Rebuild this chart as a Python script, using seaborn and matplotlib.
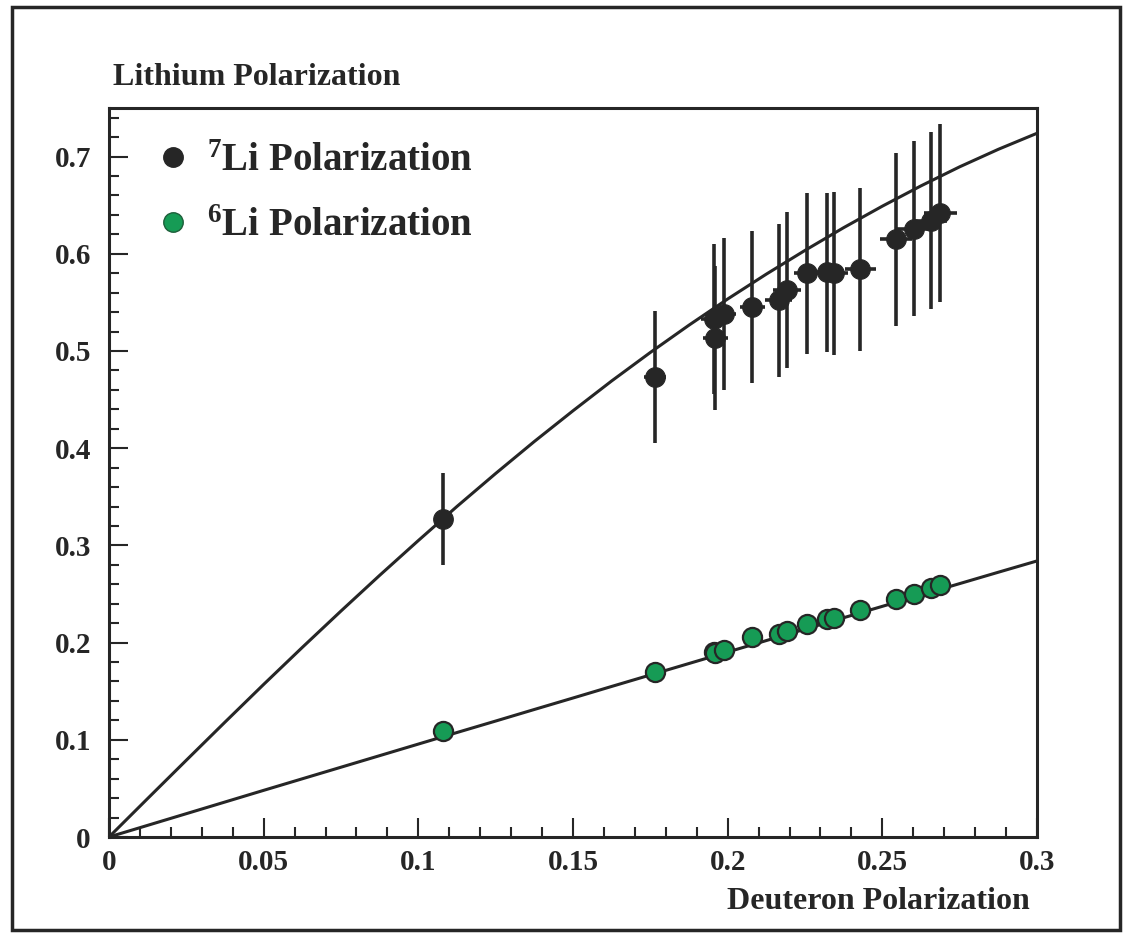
import matplotlib
matplotlib.use('Agg')
import matplotlib.pyplot as plt
import numpy as np
import pandas as pd
import seaborn as sns
from matplotlib.lines import Line2D
from matplotlib.patches import Rectangle
from matplotlib.ticker import MultipleLocator, FuncFormatter

# deuteron polarization of each measurement
li7_x = [0.108, 0.1766, 0.1955, 0.196, 0.1987, 0.208, 0.2165, 0.2192, 0.2258,
         0.2321, 0.2343, 0.2429, 0.2545, 0.2601, 0.2657, 0.2688]
li7_xerr = [0.002, 0.0035, 0.004, 0.004, 0.004, 0.004, 0.0043, 0.0044, 0.0045,
            0.0046, 0.0047, 0.0049, 0.0051, 0.0052, 0.0053, 0.0054]
li7_y = [0.327, 0.473, 0.533, 0.513, 0.538, 0.545, 0.552, 0.563, 0.580,
         0.581, 0.580, 0.584, 0.615, 0.626, 0.634, 0.642]
li7_yerr = [0.047, 0.068, 0.077, 0.074, 0.078, 0.078, 0.079, 0.080, 0.083,
            0.082, 0.084, 0.084, 0.089, 0.090, 0.091, 0.092]
li6_y = [0.1086, 0.1696, 0.190, 0.189, 0.1925, 0.2056, 0.209, 0.212, 0.219,
         0.2245, 0.2255, 0.2337, 0.245, 0.250, 0.256, 0.259]

# equal spin temperature curves
curve_x = [0.0, 0.0125, 0.025, 0.0375, 0.05, 0.0625, 0.075, 0.0875, 0.1, 0.1125,
           0.125, 0.1375, 0.15, 0.1625, 0.175, 0.1875, 0.2, 0.2125, 0.225, 0.2375,
           0.25, 0.2625, 0.275, 0.2875, 0.3]
li7_curve = [0.0, 0.0396, 0.079, 0.1182, 0.157, 0.1951, 0.2325, 0.2692, 0.305, 0.3401,
             0.374, 0.4069, 0.4385, 0.4692, 0.4985, 0.5266, 0.5535, 0.5791, 0.6035, 0.6269,
             0.649, 0.6699, 0.6895, 0.7075, 0.724]
li6_curve = [0.0, 0.012, 0.024, 0.036, 0.048, 0.0599, 0.0718, 0.0837, 0.0956, 0.1075,
             0.1193, 0.1312, 0.143, 0.1549, 0.1667, 0.1785, 0.1903, 0.2021, 0.2138, 0.2256,
             0.2373, 0.249, 0.2607, 0.2724, 0.284]

DARK = '#262626'
GREEN = '#169b55'

sns.set_theme(style='white')
plt.rcParams.update({
    'font.family': ['Liberation Serif', 'DejaVu Serif'],
    'font.weight': 'bold',
    'mathtext.fontset': 'custom',
    'mathtext.rm': 'Liberation Serif:bold',
    'mathtext.bf': 'Liberation Serif:bold',
    'mathtext.it': 'Liberation Serif:bold',
    'mathtext.default': 'rm',
    'text.color': DARK,
    'axes.edgecolor': DARK,
    'xtick.color': DARK,
    'ytick.color': DARK,
})

curves = pd.DataFrame({'x': curve_x, 'li7': li7_curve, 'li6': li6_curve})
points = pd.DataFrame({'x': li7_x, 'li7': li7_y, 'li6': li6_y})

fig = plt.figure(figsize=(11.24, 9.34), dpi=100)
ax = fig.add_axes([109 / 1124, 1 - 837 / 934, 928 / 1124, 729 / 934])

sns.lineplot(data=curves, x='x', y='li7', color=DARK, linewidth=2.2, ax=ax)
sns.lineplot(data=curves, x='x', y='li6', color=DARK, linewidth=2.2, ax=ax)

ax.errorbar(li7_x, li7_y, yerr=li7_yerr, xerr=li7_xerr, fmt='none',
            ecolor=DARK, elinewidth=2.6, capsize=0, zorder=3)
sns.scatterplot(data=points, x='x', y='li7', color=DARK, s=200, edgecolor=DARK,
                linewidth=0.8, zorder=4, ax=ax)
sns.scatterplot(data=points, x='x', y='li6', color=GREEN, s=190, edgecolor=DARK,
                linewidth=1.6, zorder=4, ax=ax)

ax.set_xlim(0, 0.3)
ax.set_ylim(0, 0.75)
ax.xaxis.set_major_locator(MultipleLocator(0.05))
ax.xaxis.set_minor_locator(MultipleLocator(0.01))
ax.yaxis.set_major_locator(MultipleLocator(0.1))
ax.yaxis.set_minor_locator(MultipleLocator(0.02))
ax.xaxis.set_major_formatter(FuncFormatter(lambda v, p: f'{v:g}'))
ax.yaxis.set_major_formatter(FuncFormatter(lambda v, p: f'{v:g}'))
ax.tick_params(which='both', direction='in', bottom=True, left=True,
               top=False, right=False, width=1.5, color=DARK)
ax.tick_params(which='major', length=14, labelsize=21)
ax.tick_params(which='minor', length=7)
ax.tick_params(axis='x', pad=9)
ax.tick_params(axis='y', pad=13)
for spine in ax.spines.values():
    spine.set_linewidth(2.2)
    spine.set_color(DARK)

ax.set_ylabel('')
ax.set_xlabel('Deuteron Polarization', fontsize=23, fontweight='bold', loc='right')
ax.xaxis.set_label_coords(0.9925, -0.068)
ax.text(0.004, 1.0425, 'Lithium Polarization', transform=ax.transAxes,
        fontsize=23, fontweight='bold', ha='left', va='center')

handles = [
    Line2D([], [], linestyle='none', marker='o', markersize=14, color=DARK),
    Line2D([], [], linestyle='none', marker='o', markersize=14, markerfacecolor=GREEN,
           markeredgecolor='#1d5e3a'),
]
labels = [r'$^{7}$Li Polarization', r'$^{6}$Li Polarization']
ax.legend(handles, labels, loc='upper left', bbox_to_anchor=(0.052, 0.952),
          frameon=False, fontsize=28, handlelength=0.8, handletextpad=0.48,
          borderpad=0, borderaxespad=0, labelspacing=0.72)

fig.add_artist(Rectangle((12 / 1124, 1 - 930 / 934), 1108 / 1124, 923 / 934,
                         transform=fig.transFigure, fill=False, linewidth=2.5,
                         edgecolor=DARK))

fig.savefig('out.png', dpi=100)
